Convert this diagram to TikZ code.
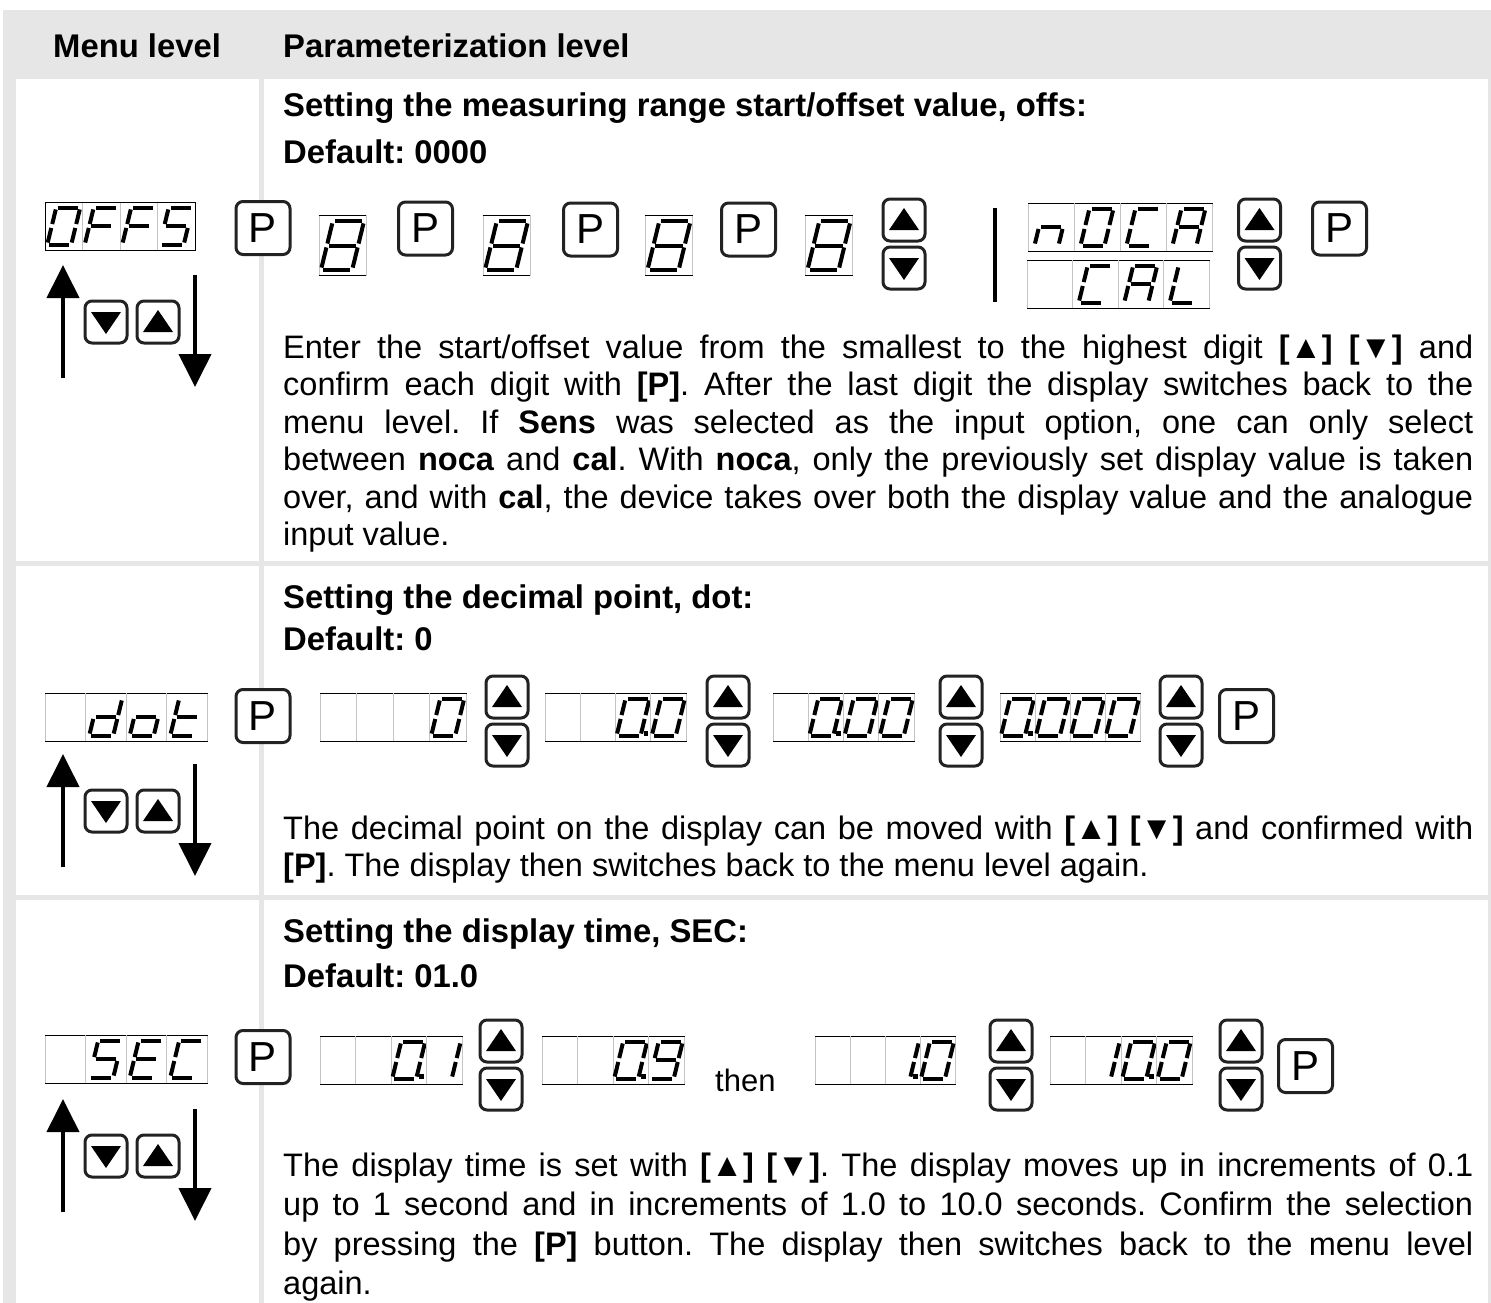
\documentclass[tikz,border=0pt]{standalone}
\usepackage{fontspec}
\setmainfont{Liberation Sans}
\usetikzlibrary{arrows.meta}
\frenchspacing

\definecolor{gridgray}{HTML}{E6E6E6}
\definecolor{keyline}{HTML}{222222}
\definecolor{celllines}{HTML}{C4C4C4}

% seven segment glyphs as pairs of corners
\newcommand\defglyph[2]{\expandafter\def\csname gl#1\endcsname{#2}}
\defglyph{0}{tl/tr,tr/mr,mr/br,bl/br,ml/bl,tl/ml}
\defglyph{8}{tl/tr,tr/mr,mr/br,bl/br,ml/bl,tl/ml,ml/mr}
\defglyph{F}{tl/tr,tl/ml,ml/bl,ml/mr}
\defglyph{S}{tl/tr,tl/ml,ml/mr,mr/br,bl/br}
\defglyph{n}{ml/mr,ml/bl,mr/br}
\defglyph{C}{tl/tr,tl/ml,ml/bl,bl/br}
\defglyph{A}{tl/tr,tr/mr,mr/br,ml/bl,tl/ml,ml/mr}
\defglyph{L}{tl/ml,ml/bl,bl/br}
\defglyph{d}{tr/mr,mr/br,bl/br,ml/bl,ml/mr}
\defglyph{o}{mr/br,bl/br,ml/bl,ml/mr}
\defglyph{t}{tl/ml,ml/bl,bl/br,ml/mr}
\defglyph{E}{tl/tr,tl/ml,ml/bl,bl/br,ml/mr}
\defglyph{1}{tr/mr,mr/br}
\defglyph{9}{tl/tr,tr/mr,mr/br,bl/br,tl/ml,ml/mr}

% one digit: x, y, glyph, scale
\newcommand\segglyph[4]{%
  \if x#3\else
  \begin{scope}[shift={(#1,#2)},scale=#4]
    \coordinate (tl) at (-7.5,-18.5);
    \coordinate (tr) at (16.5,-18.5);
    \coordinate (ml) at (-12,0);
    \coordinate (mr) at (12,0);
    \coordinate (bl) at (-16.5,18.5);
    \coordinate (br) at (7.5,18.5);
    \expandafter\let\expandafter\gllist\csname gl#3\endcsname
    \foreach \u/\v in \gllist {\draw[segline] (\u) -- (\v);}
  \end{scope}
  \fi}

% four digit display: [style] name, left, top, width, cells glyph/point
\newcommand\lcd[6][]{%
  \node[lcd,#1,minimum width=#5pt,anchor=north west] (#2) at (#3,#4) {};
  \draw[lcdedge] (#2.north west) -- (#2.north east) (#2.south west) -- (#2.south east);
  \foreach \g/\p [count=\i] in {#6} {
    \pgfmathsetmacro\cx{#3+(\i-0.5)*#5/4}
    \pgfmathsetmacro\cy{#4+24}
    \ifnum\i>1 \draw[celldiv] ({#3+(\i-1)*#5/4},#4) -- ++(0,48); \fi
    \segglyph{\cx}{\cy}{\g}{1}
    \ifnum\p=1 \fill (\cx+10.5,\cy+14) rectangle ++(4.5,4.5); \fi
  }}

% pair of arrow keys: name, x, y (centre of the pair)
\newcommand\updown[3]{%
  \node[key] (#1u) at (#2,#3-24) {};
  \node[key] (#1d) at (#2,#3+24) {};
  \fill (#1u.center) ++(-15,10) -- ++(30,0) -- ++(-15,-22) -- cycle;
  \fill (#1d.center) ++(-15,-10) -- ++(30,0) -- ++(-15,22) -- cycle;}

% menu arrows with the two keys: row name, y of the keys
\newcommand\menunav[2]{%
  \coordinate (#1ua) at (63,#2+56);
  \coordinate (#1ub) at (63,#2-57);
  \coordinate (#1da) at (195,#2-47);
  \coordinate (#1db) at (195,#2+65);
  \draw[bigarrow] (#1ua) -- (#1ub);
  \draw[bigarrow] (#1da) -- (#1db);
  \node[key] (#1kd) at (106,#2) {};
  \node[key] (#1ku) at (158,#2) {};
  \fill (#1kd.center) ++(-15,-10) -- ++(30,0) -- ++(-15,22) -- cycle;
  \fill (#1ku.center) ++(-15,10) -- ++(30,0) -- ++(-15,-22) -- cycle;}

\newcommand\jl[1]{\makebox[1190pt][s]{#1}\\}

\begin{document}
\begin{tikzpicture}[x=1pt,y=-1pt,
    key/.style={draw=keyline,line width=3pt,rounded corners=7pt,fill=white,
      minimum width=42pt,minimum height=42pt,inner sep=0pt},
    pkey/.style={key,minimum width=54pt,minimum height=53pt,
      font=\fontsize{42}{42}\selectfont},
    lcd/.style={draw=celllines,line width=0.8pt,fill=white,minimum height=48pt,inner sep=0pt},
    digbox/.style={lcd,minimum width=47pt,minimum height=60pt},
    lcdedge/.style={line width=1pt},
    celldiv/.style={draw=celllines,line width=0.8pt},
    segline/.style={line width=4pt,shorten <=2pt,shorten >=2pt},
    bigarrow/.style={line width=4pt,-{Triangle[width=32pt,length=33pt]}},
    headtext/.style={anchor=base west,inner sep=0pt,font=\bfseries\fontsize{32.8}{37.5}\selectfont},
    bodytext/.style={anchor=base west,inner sep=0pt,text width=1190pt,align=justify,
      font=\fontsize{32.5}{37.5}\selectfont}]

  \useasboundingbox (0,0) rectangle (1491,1303);

  % table
  \fill[gridgray] (3,10) rectangle (1491,1303);
  \foreach \ya/\yb in {79/561,566/895,900/1303} {
    \fill[white] (16,\ya) rectangle (259,\yb);
    \fill[white] (264,\ya) rectangle (1488,\yb);
  }
  \node[headtext] (hmenu) at (53,58) {Menu level};
  \node[headtext] (hpar) at (283,58) {Parameterization level};

  % offs
  \node[headtext] (t1) at (283,117) {Setting the measuring range start/offset value, offs:};
  \node[headtext] (d1) at (283,164) {Default: 0000};
  \lcd{offs}{45}{202}{150}{0/0,F/0,F/0,S/0}
  \draw[lcdedge] (offs.north west) rectangle (offs.south east);
  \node[pkey] (p11) at (263,228) {P};
  \node[digbox] (e1) at (342.5,245.5) {};
  \node[pkey] (p12) at (425.5,228.5) {P};
  \node[digbox] (e2) at (506.5,245.5) {};
  \node[pkey] (p13) at (590.5,229.5) {P};
  \node[digbox] (e3) at (669,245.5) {};
  \node[pkey] (p14) at (748.5,229.5) {P};
  \node[digbox] (e4) at (829,245.5) {};
  \foreach \n in {e1,e2,e3,e4} {
    \draw[lcdedge] (\n.north west) -- (\n.north east) (\n.south west) -- (\n.south east);
  }
  \segglyph{342.5}{245.5}{8}{1.3}
  \segglyph{506.5}{245.5}{8}{1.3}
  \segglyph{669}{245.5}{8}{1.3}
  \segglyph{829}{245.5}{8}{1.3}
  \updown{ud11}{904}{244}
  \draw[line width=4pt] (995,208) -- (995,302);
  \lcd{noca}{1028}{203}{184}{n/0,0/0,C/0,A/0}
  \lcd{cal}{1027}{260}{182}{x/0,C/0,A/0,L/0}
  \updown{ud12}{1259.5}{244}
  \node[pkey] (p15) at (1339.5,228.5) {P};
  \menunav{m1}{322}
  \node[bodytext] (b1) at (283,358) {%
    \jl{Enter the start/offset value from the smallest to the highest digit \textbf{[▲] [▼]} and}
    \jl{confirm each digit with \textbf{[P]}. After the last digit the display switches back to the}
    \jl{menu level. If \textbf{Sens} was selected as the input option, one can only select}
    \jl{between \textbf{noca} and \textbf{cal}. With \textbf{noca}, only the previously set display value is taken}
    \jl{over, and with \textbf{cal}, the device takes over both the display value and the analogue}
    input value.};

  % dot
  \node[headtext] (t2) at (283,608) {Setting the decimal point, dot:};
  \node[headtext] (d2) at (283,650) {Default: 0};
  \lcd[draw=celllines]{dot}{45}{693}{162}{x/0,d/0,o/0,t/0}
  \node[pkey] (p21) at (263,716) {P};
  \lcd{dp0}{320}{693}{146}{x/0,x/0,x/0,0/0}
  \updown{ud21}{507}{721}
  \lcd{dp1}{545}{693}{141}{x/0,x/0,0/1,0/0}
  \updown{ud22}{728}{721}
  \lcd{dp2}{773}{693}{141}{x/0,0/1,0/0,0/0}
  \updown{ud23}{961}{721}
  \lcd{dp3}{1000}{693}{140}{0/1,0/0,0/0,0/0}
  \updown{ud24}{1181}{721}
  \node[pkey] (p22) at (1246.5,716) {P};
  \menunav{m2}{811}
  \node[bodytext] (b2) at (283,839) {%
    \jl{The decimal point on the display can be moved with \textbf{[▲] [▼]} and confirmed with}
    \textbf{[P]}. The display then switches back to the menu level again.};

  % sec
  \node[headtext] (t3) at (283,942) {Setting the display time, SEC:};
  \node[headtext] (d3) at (283,987) {Default: 01.0};
  \lcd{sec}{45}{1035}{162}{x/0,S/0,E/0,C/0}
  \node[pkey] (p31) at (263,1057) {P};
  \lcd{ds1}{320}{1036}{142}{x/0,x/0,0/1,1/0}
  \updown{ud31}{501}{1065}
  \lcd{ds2}{542}{1036}{142}{x/0,x/0,0/1,9/0}
  \node[anchor=base west,inner sep=0pt,font=\fontsize{31}{36}\selectfont] (then) at (715,1091) {then};
  \lcd{ds3}{815}{1036}{140}{x/0,x/0,1/1,0/0}
  \updown{ud32}{1011}{1065}
  \lcd{ds4}{1050}{1036}{142}{x/0,1/0,0/1,0/0}
  \updown{ud33}{1241}{1065}
  \node[pkey] (p32) at (1305.5,1066) {P};
  \menunav{m3}{1156}
  \node[bodytext,font=\fontsize{32.5}{39.5}\selectfont] (b3) at (283,1176) {%
    \jl{The display time is set with \textbf{[▲] [▼]}. The display moves up in increments of 0.1}
    \jl{up to 1 second and in increments of 1.0 to 10.0 seconds. Confirm the selection}
    \jl{by pressing the \textbf{[P]} button. The display then switches back to the menu level}
    again.};
\end{tikzpicture}
\end{document}
